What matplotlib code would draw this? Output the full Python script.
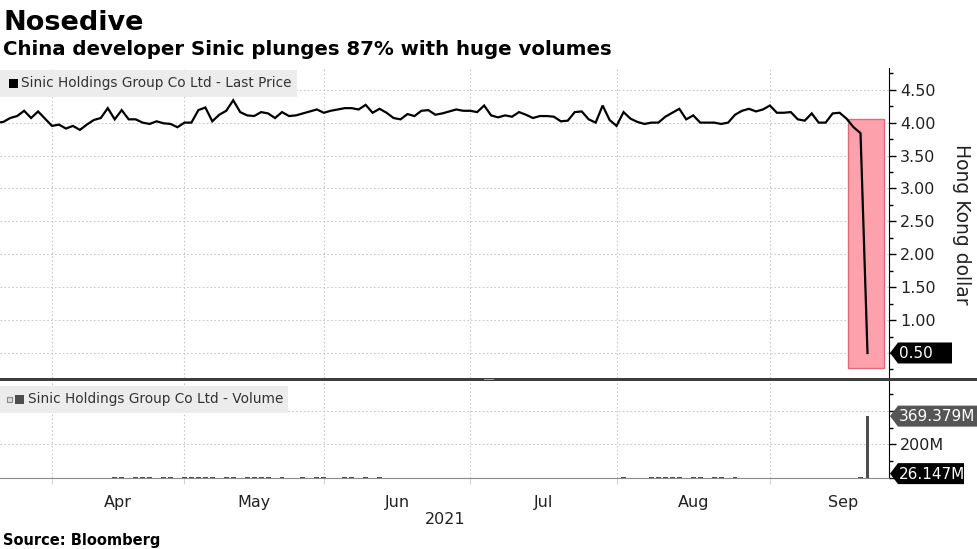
import numpy as np
import pandas as pd
import matplotlib
matplotlib.use("Agg")
import matplotlib.pyplot as plt
from matplotlib.patches import Rectangle, Polygon

# ---------------- data ----------------
hk_holidays = ["2021-04-02", "2021-04-05", "2021-04-06", "2021-05-19",
               "2021-06-14", "2021-07-01", "2021-09-22"]
calendar = pd.bdate_range("2021-03-19", "2021-09-30", freq="C", holidays=hk_holidays)
dates = calendar[calendar <= "2021-09-20"]

price = [4.00,
         4.01, 4.07, 4.10, 4.18, 4.07, 4.17, 4.06, 3.95, 3.97, 3.91,
         3.95, 3.89, 3.97, 4.04, 4.07, 4.22, 4.05, 4.19, 4.05, 4.05,
         4.00, 3.98, 4.02, 3.99, 3.98, 3.93, 4.00, 4.00, 4.19, 4.23,
         4.02, 4.12, 4.18, 4.34, 4.16, 4.11, 4.10, 4.16, 4.14, 4.07,
         4.16, 4.10, 4.11, 4.14, 4.17, 4.20, 4.15, 4.18, 4.20, 4.22,
         4.22, 4.20, 4.27, 4.15, 4.21, 4.15, 4.07, 4.05, 4.13, 4.10,
         4.18, 4.19, 4.12, 4.14, 4.17, 4.20, 4.18, 4.18, 4.16, 4.26,
         4.11, 4.08, 4.11, 4.09, 4.16, 4.12, 4.07, 4.10, 4.10, 4.09,
         4.02, 4.03, 4.16, 4.17, 4.05, 4.00, 4.26, 4.04, 3.95, 4.16,
         4.06, 4.01, 3.98, 4.00, 4.00, 4.09, 4.15, 4.21, 4.05, 4.11,
         4.00, 4.00, 4.00, 3.98, 4.00, 4.12, 4.18, 4.21, 4.17, 4.20,
         4.26, 4.15, 4.15, 4.16, 4.05, 4.03, 4.14, 4.00, 4.00, 4.14,
         4.15, 4.06, 3.93, 3.84, 0.50]

# volume in millions of shares
volume = ([0] * 17 + [8] +
          [3, 2, 3, 4, 3, 2, 3, 3, 2, 3, 3, 4, 7, 3, 2, 3, 3, 2, 3, 6,
           3, 3, 2, 3, 0, 2, 3, 2, 3, 3, 2, 2, 3, 3, 2, 3, 2, 3, 2] +
          [0] * 33 + [6, 0, 0] +
          [2, 3, 3, 4, 3, 3, 2, 3, 3, 2, 3, 3, 2, 3, 2] +
          [0] * 16 + [8, 369.379])

last_price = 0.50
volume_tags = [369.379, 26.147]
price_ticks = [0.50, 1.00, 1.50, 2.00, 2.50, 3.00, 3.50, 4.00, 4.50]
volume_ticks = [0, 200, 400]
volume_tick_labels = ["", "200M", ""]
highlight_from = pd.Timestamp("2021-09-15")
highlight_price = (0.27, 4.05)

pos = np.arange(len(dates))
cal_pos = pd.Series(np.arange(len(calendar)), index=calendar)
month_end = cal_pos.groupby(calendar.to_period("M")).max()
grid_x = month_end.values[:-1]
month_mid = (month_end.values[:-1] + month_end.values[1:]) / 2
month_names = [p.strftime("%b") for p in month_end.index[1:]]

# ---------------- layout ----------------
W, H = 977, 549
fig = plt.figure(figsize=(W / 100, H / 100), dpi=100)
plt.rcParams["font.family"] = ["DejaVu Sans"]


def fxy(x, y):
    return (x / W, 1 - y / H)


ax1 = fig.add_axes([0, 1 - 378 / H, 889 / W, (378 - 68) / H])
ax2 = fig.add_axes([0, 1 - 478 / H, 889 / W, (478 - 381) / H], sharex=ax1)

px_per_day = 6.97
x0 = month_end.values[0] - 52 / px_per_day
x1 = month_end.values[0] + (889 - 52) / px_per_day
ax1.set_xlim(x0, x1)

grid_kw = dict(color="#c9c9c9", lw=0.8, ls=(0, (1.5, 2)))

# price panel
ax1.set_ylim(0.12, 4.83)
hl_start = int(np.where(dates == highlight_from)[0][0]) + 0.2
ax1.add_patch(Rectangle((hl_start, highlight_price[0]), 5.1,
                        highlight_price[1] - highlight_price[0],
                        facecolor="#fda2ad", edgecolor="#e56876", lw=1, zorder=2))
ax1.plot(pos, price, color="black", lw=1.6, zorder=3, solid_joinstyle="miter")
for v in price_ticks:
    ax1.axhline(v, zorder=0, **grid_kw)
for gx in grid_x:
    ax1.axvline(gx, zorder=0, **grid_kw)
ax1.yaxis.tick_right()
ax1.set_yticks(price_ticks)
# the lowest label sits under the last-price tag, so it is left blank
ax1.set_yticklabels(["" if v == last_price else f"{v:.2f}" for v in price_ticks])
ax1.set_yticks(np.arange(0.25, 4.83, 0.25), minor=True)
ax1.tick_params(axis="y", which="major", length=5, width=1, color="black",
                labelcolor="#222222", labelsize=11.5, pad=3)
ax1.tick_params(axis="y", which="minor", length=3, width=1, color="black")
ax1.tick_params(axis="x", which="both", length=0, labelbottom=False)
for s in ["top", "left", "bottom"]:
    ax1.spines[s].set_visible(False)
ax1.spines["right"].set_color("black")

# volume panel
ax2.set_ylim(0, 579)
widths = [0.7] * (len(volume) - 1) + [0.4]
ax2.bar(pos, volume, width=widths, color="#4d4d4d", zorder=3)
for v in [200, 400]:
    ax2.axhline(v, zorder=0, **grid_kw)
for gx in grid_x:
    ax2.axvline(gx, zorder=0, **grid_kw)
ax2.yaxis.tick_right()
ax2.set_yticks(volume_ticks)
ax2.set_yticklabels(volume_tick_labels)
ax2.set_yticks([100, 300, 500], minor=True)
ax2.tick_params(axis="y", which="major", length=5, width=1, color="black",
                labelcolor="#222222", labelsize=11.5, pad=3)
ax2.tick_params(axis="y", which="minor", length=3, width=1, color="black")
ax2.set_xticks(grid_x)
ax2.set_xticklabels([""] * len(grid_x))
ax2.set_xticks(month_mid, minor=True)
ax2.set_xticklabels(month_names, minor=True)
ax2.tick_params(axis="x", which="major", length=4, color="#d5d5d5")
ax2.tick_params(axis="x", which="minor", length=0, pad=12,
                labelsize=11.5, labelcolor="#222222")
for s in ["top", "left"]:
    ax2.spines[s].set_visible(False)
ax2.spines["bottom"].set_color("#8a8a8a")
ax2.spines["right"].set_color("black")
ax1.set_xlim(x0, x1)

# separator between panels
fig.add_artist(Rectangle(fxy(0, 381), 1, 3 / H, transform=fig.transFigure,
                         facecolor="#3d3d3d", edgecolor="none", zorder=6))
fig.add_artist(Rectangle(fxy(484, 380), 10 / W, 1 / H, transform=fig.transFigure,
                         facecolor="#a0a0a0", edgecolor="none", zorder=7))

# legends
fig.add_artist(Rectangle(fxy(0, 97), 297 / W, 27 / H, transform=fig.transFigure,
                         facecolor="#ececec", edgecolor="none", zorder=5))
fig.add_artist(Rectangle(fxy(9, 88), 9 / W, 9 / H, transform=fig.transFigure,
                         facecolor="black", edgecolor="none", zorder=6))
fig.text(*fxy(21, 83.5), "Sinic Holdings Group Co Ltd - Last Price", fontsize=9.8,
         color="#333333", va="center", ha="left", zorder=6)

fig.add_artist(Rectangle(fxy(0, 413), 288 / W, 27 / H, transform=fig.transFigure,
                         facecolor="#ececec", edgecolor="none", zorder=5))
fig.add_artist(Rectangle(fxy(7, 402), 5 / W, 5 / H, transform=fig.transFigure,
                         facecolor="#dddddd", edgecolor="#888888", lw=0.8, zorder=6))
fig.add_artist(Rectangle(fxy(15, 404), 9 / W, 9 / H, transform=fig.transFigure,
                         facecolor="#4d4d4d", edgecolor="none", zorder=6))
fig.text(*fxy(28, 399.5), "Sinic Holdings Group Co Ltd - Volume", fontsize=9.8,
         color="#333333", va="center", ha="left", zorder=6)


# value tags
def tag(ax, value, text, x_right, face):
    yc = H - ax.transData.transform((0, value))[1]
    h, xl, tip = 21, 890, 8
    pts = [(xl, yc), (xl + tip, yc - h / 2), (x_right, yc - h / 2),
           (x_right, yc + h / 2), (xl + tip, yc + h / 2)]
    fig.add_artist(Polygon([fxy(*p) for p in pts], closed=True,
                           transform=fig.transFigure, facecolor=face,
                           edgecolor="none", zorder=10))
    fig.text(*fxy(xl + tip + 1, yc + 0.5), text, color="white", fontsize=11,
             va="center", ha="left", zorder=11)


tag(ax1, last_price, f"{last_price:.2f}", 952, "black")
tag(ax2, volume_tags[0], f"{volume_tags[0]:.3f}M", 977, "#555555")
tag(ax2, volume_tags[1], f"{volume_tags[1]:.3f}M", 964, "black")

# axis title
fig.text(*fxy(961, 224), "Hong Kong dollar", rotation=-90, fontsize=13.5,
         color="#222222", va="center", ha="center")

# titles / footer
fig.text(*fxy(3, 30), "Nosedive", fontsize=19.5, fontweight="bold",
         color="black", va="baseline", ha="left")
fig.text(*fxy(3, 55), "China developer Sinic plunges 87% with huge volumes",
         fontsize=14.2, fontweight="bold", color="black", va="baseline", ha="left")
fig.text(*fxy(445, 520), "2021", fontsize=11.5, color="#222222",
         va="center", ha="center")
fig.text(*fxy(3, 545), "Source: Bloomberg", fontsize=10.5, fontweight="bold",
         color="black", va="baseline", ha="left")

fig.savefig("out.png", dpi=100)
